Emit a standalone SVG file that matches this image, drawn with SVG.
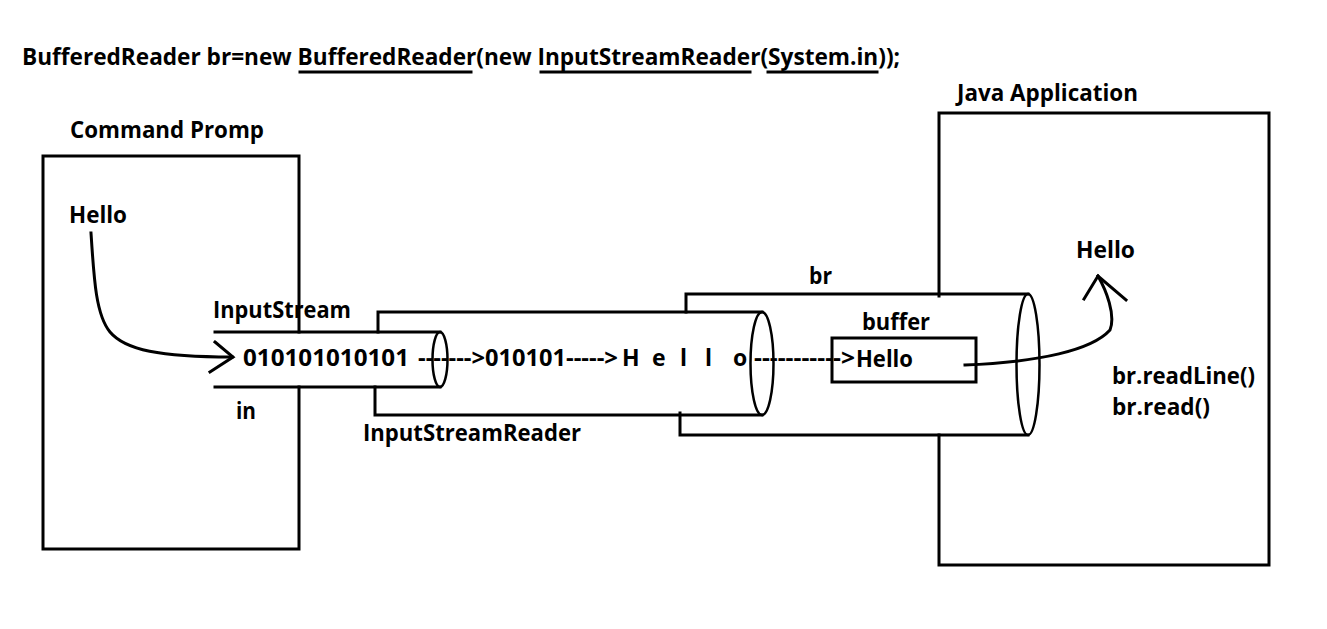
<svg xmlns="http://www.w3.org/2000/svg" width="1327" height="629" viewBox="0 0 1327 629">
<style>
text{font-family:"Open Sans","Liberation Sans",sans-serif;font-weight:700;font-size:23px;fill:#000}
.ln{fill:none;stroke:#000;stroke-width:3;stroke-linecap:square}
.thin{fill:none;stroke:#000;stroke-width:2.5}
</style>
<rect width="1327" height="629" fill="#fff"/>
<g id="title">
<text x="22" y="65" textLength="878" lengthAdjust="spacingAndGlyphs">BufferedReader br=new BufferedReader(new InputStreamReader(System.in));</text>
<path class="ln" d="M300,72H471M541,72H750M768,72H877"/>
</g>
<g id="command-prompt">
<path class="ln" d="M299,332V156H43V549H299V387"/>
<text x="70" y="138" textLength="194" lengthAdjust="spacingAndGlyphs">Command Promp</text>
<text x="69" y="223" textLength="58" lengthAdjust="spacingAndGlyphs">Hello</text>
</g>
<g id="inputstream">
<path class="ln" d="M215,332H440M215,387H440"/>
<ellipse class="thin" cx="440" cy="359.5" rx="7.5" ry="27.5"/>
<text x="213" y="318" textLength="138" lengthAdjust="spacingAndGlyphs">InputStream</text>
<text x="236" y="419" textLength="20" lengthAdjust="spacingAndGlyphs">in</text>
<text x="243" y="366" textLength="166" lengthAdjust="spacingAndGlyphs">010101010101</text>
</g>
<g id="inputstreamreader">
<path class="ln" d="M378,332V312H762M375,387V415H762"/>
<ellipse class="thin" cx="762" cy="363.5" rx="11.5" ry="51.5"/>
<text x="363" y="441" textLength="218" lengthAdjust="spacingAndGlyphs">InputStreamReader</text>
<text x="418" y="366" textLength="67" lengthAdjust="spacingAndGlyphs">-------&gt;</text>
<text x="485" y="366" textLength="81" lengthAdjust="spacingAndGlyphs">010101</text>
<text x="566" y="366" textLength="52" lengthAdjust="spacingAndGlyphs">-----&gt;</text>
<text x="622" y="366">H</text>
<text x="652" y="366">e</text>
<text x="680" y="366">l</text>
<text x="705" y="366">l</text>
<text x="733" y="366">o</text>
</g>
<g id="bufferedreader">
<path class="ln" d="M686,312V294H1028M680,413V435H1028"/>
<ellipse class="thin" cx="1028" cy="364.5" rx="11.5" ry="70.5"/>
<text x="809" y="284" textLength="23" lengthAdjust="spacingAndGlyphs">br</text>
</g>
<g id="buffer">
<rect class="ln" x="832" y="338" width="144" height="44"/>
<text x="862" y="330" textLength="68" lengthAdjust="spacingAndGlyphs">buffer</text>
<text x="856" y="367" textLength="57" lengthAdjust="spacingAndGlyphs">Hello</text>
<text x="754" y="366" textLength="101" lengthAdjust="spacingAndGlyphs">-----------&gt;</text>
</g>
<g id="java-application">
<path class="ln" d="M939,296V113H1269V565H939V435"/>
<text x="957" y="101" textLength="181" lengthAdjust="spacingAndGlyphs">Java Application</text>
<text x="1076" y="258" textLength="59" lengthAdjust="spacingAndGlyphs">Hello</text>
<text x="1112" y="384" textLength="143" lengthAdjust="spacingAndGlyphs">br.readLine()</text>
<text x="1112" y="415" textLength="98" lengthAdjust="spacingAndGlyphs">br.read()</text>
</g>
<g id="connectors">
<path class="ln" d="M91,233C94,280 96,315 110,332C125,350 160,357 232,357"/>
<path class="ln" d="M215,342L233,357L210,372"/>
<path class="ln" d="M965,365C1040,362 1092,350 1110,330C1116,315 1106,290 1098,276"/>
<path class="ln" d="M1084,299L1098,276L1126,300"/>
</g>
</svg>
